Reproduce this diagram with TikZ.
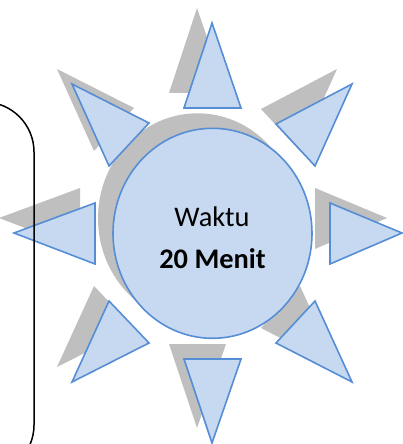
\documentclass[tikz,border=0pt]{standalone}
\usepackage{fontspec}
\setmainfont{Carlito}
\usetikzlibrary{shapes.geometric}
\definecolor{sunfill}{HTML}{C6D9F1}
\definecolor{sunline}{HTML}{558ED5}
\definecolor{shadowgray}{HTML}{BFBFBF}
\begin{document}
\begin{tikzpicture}[x=1bp,y=-1bp,
  ray/.style={fill=sunfill,draw=sunline,line width=1.6bp,line join=miter},
  rayshadow/.style={fill=shadowgray,draw=none},
  lbl/.style={inner sep=0pt,anchor=base,font=\fontsize{28.5}{34}\selectfont}]
\useasboundingbox (0,0) rectangle (402,444);
% shadows
\foreach \ax/\ay/\bx/\by/\cx/\cy in {212/23/184/108/241/108,212/443/184/359/241/359,14/233/95/203/95/264,402/233/330/203/330/264,72/84/149/123/109/166,352/84/276/124/315/166,109/301/149/343/72/382,315/301/276/343/352/382}
  \path[rayshadow] (\ax-15,\ay-15) -- (\bx-15,\by-15) -- (\cx-15,\cy-15) -- cycle;
\node[ellipse,rayshadow,minimum width=199bp,minimum height=210bp,inner sep=0pt] (cs) at (197.5,218.3) {};
% rays
\foreach \ax/\ay/\bx/\by/\cx/\cy in {212/23/184/108/241/108,212/443/184/359/241/359,14/233/95/203/95/264,402/233/330/203/330/264,72/84/149/123/109/166,352/84/276/124/315/166,109/301/149/343/72/382,315/301/276/343/352/382}
  \draw[ray] (\ax,\ay) -- (\bx,\by) -- (\cx,\cy) -- cycle;
\node[ellipse,ray,minimum width=199bp,minimum height=210bp,inner sep=0pt] (c) at (212.5,233.3) {};
\node[lbl] (t1) at (212,226) {Waktu};
\node[lbl] (t2) at (212.5,268) {\bfseries 20 Menit};
% bracket
\coordinate (b0) at (-16,102);
\coordinate (b1) at (34,425);
\draw[black,line width=1.5bp] (b0) arc[start angle=90,end angle=0,radius=50bp] -- (b1) arc[start angle=0,end angle=-23,radius=50bp];
\end{tikzpicture}
\end{document}
